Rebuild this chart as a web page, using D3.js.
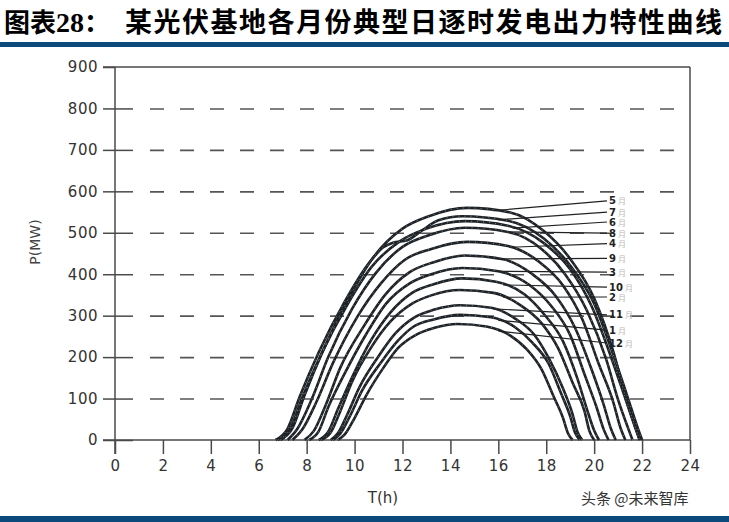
<!DOCTYPE html>
<html>
<head>
<meta charset="utf-8">
<script src="https://cdn.jsdelivr.net/npm/d3@7"></script>
<style>
body { margin: 0; background: #fff; }
</style>
</head>
<body>
<div id="chart"></div>
<script>
var width = 729,
    height = 522;

// 各月份（按右侧标注从上到下的顺序）
var months = ["5", "7", "6", "8", "4", "9", "3", "10", "2", "11", "1", "12"];

// 每条曲线的时刻 (h)
var hours = [
  [6.9, 7.4, 7.9, 8.7, 9.8, 10.8, 12.0, 13.1, 14.7, 16.5, 17.9, 19.0, 20.0, 20.8, 21.3, 21.7, 21.9],
  [6.7, 7.2, 7.7, 8.5, 9.6, 10.6, 11.2, 11.6, 12.2, 12.8, 13.5, 14.5, 16.4, 17.9, 19.0, 20.0, 20.8, 21.4, 21.8, 22.0],
  [6.8, 7.3, 7.8, 8.6, 9.7, 10.7, 11.9, 13.0, 14.6, 16.4, 17.9, 19.0, 19.9, 20.7, 21.3, 21.7, 21.9],
  [7.2, 7.6, 8.2, 8.9, 9.9, 10.9, 12.0, 13.1, 14.6, 16.4, 17.8, 18.8, 19.7, 20.5, 21.0, 21.4, 21.6],
  [7.4, 7.8, 8.4, 9.1, 10.1, 11.1, 12.1, 13.2, 14.7, 16.4, 17.7, 18.7, 19.5, 20.2, 20.8, 21.1, 21.3],
  [7.9, 8.3, 8.8, 9.4, 10.4, 11.3, 12.3, 13.3, 14.6, 16.2, 17.4, 18.4, 19.2, 19.9, 20.4, 20.7, 20.9],
  [8.1, 8.5, 8.9, 9.6, 10.5, 11.3, 12.3, 13.2, 14.5, 16.0, 17.3, 18.2, 19.0, 19.6, 20.1, 20.4, 20.6],
  [8.5, 8.9, 9.3, 9.9, 10.7, 11.5, 12.4, 13.3, 14.5, 15.9, 17.1, 17.9, 18.7, 19.3, 19.7, 20.0, 20.2],
  [8.6, 9.0, 9.4, 9.9, 10.7, 11.5, 12.4, 13.2, 14.4, 15.8, 16.9, 17.8, 18.5, 19.1, 19.6, 19.8, 20.0],
  [9.0, 9.3, 9.7, 10.2, 11.0, 11.7, 12.5, 13.3, 14.4, 15.7, 16.7, 17.5, 18.1, 18.7, 19.1, 19.3, 19.5],
  [9.1, 9.4, 9.8, 10.3, 11.1, 11.8, 12.5, 13.3, 14.4, 15.7, 16.7, 17.4, 18.1, 18.6, 19.0, 19.2, 19.4],
  [9.3, 9.6, 10.0, 10.5, 11.2, 11.8, 12.6, 13.3, 14.3, 15.5, 16.5, 17.2, 17.8, 18.3, 18.7, 18.9, 19.1]
];

// 对应的发电出力 P (MW)
var power = [
  [0, 28, 106, 218, 347, 442, 510, 540, 560, 549, 504, 437, 342, 213, 106, 34, 0],
  [0, 27, 103, 211, 335, 427, 465, 476, 482, 505, 530, 540, 529, 486, 421, 329, 205, 103, 32, 0],
  [0, 26, 100, 206, 327, 417, 480, 510, 528, 517, 475, 412, 322, 201, 100, 32, 0],
  [0, 26, 97, 200, 317, 404, 466, 494, 512, 502, 461, 399, 312, 195, 97, 31, 0],
  [0, 24, 91, 186, 296, 378, 435, 461, 478, 468, 430, 373, 292, 182, 91, 29, 0],
  [0, 22, 85, 174, 276, 352, 405, 429, 445, 436, 401, 347, 271, 169, 85, 27, 0],
  [0, 21, 79, 162, 257, 328, 378, 400, 415, 407, 374, 324, 253, 158, 79, 25, 0],
  [0, 20, 74, 152, 242, 308, 355, 376, 390, 382, 351, 304, 238, 148, 74, 23, 0],
  [0, 18, 69, 141, 224, 286, 329, 349, 362, 355, 326, 282, 221, 138, 69, 22, 0],
  [0, 16, 62, 127, 202, 257, 296, 314, 325, 319, 293, 254, 198, 124, 62, 20, 0],
  [0, 15, 57, 118, 187, 239, 275, 291, 302, 296, 272, 236, 184, 115, 57, 18, 0],
  [0, 14, 53, 109, 174, 221, 255, 270, 280, 274, 252, 218, 171, 106, 53, 17, 0]
];

// 标注引线：曲线上的起点时刻，和标注所在的高度 (MW)
var anchorHour = [15.8, 16.0, 16.6, 16.4, 16.5, 16.0, 16.0, 16.2, 16.2, 15.8, 16.0, 16.0];
var labelMW = [577, 550, 526, 499, 474, 438, 405, 369, 345, 302, 265, 234];

var xTicks = d3.range(0, 25, 2);
var yTicks = d3.range(0, 901, 100);

var svg = d3.select("#chart").append("svg")
    .attr("width", width)
    .attr("height", height)
    .style("background-color", "#fff");

// 标题
var title = svg.append("text")
    .attr("x", 4)
    .attr("y", 32)
    .style("font-size", "26px")
    .attr("font-weight", "bold")
    .style("fill", "#000");
title.append("tspan").attr("font-family", "Noto Sans CJK SC").text("图表");
title.append("tspan").attr("font-family", "Liberation Serif").style("font-size", "28px").text("28");
title.append("tspan").attr("font-family", "Noto Sans CJK SC").text("：");

svg.append("text")
    .attr("x", 125)
    .attr("y", 32)
    .attr("font-family", "Noto Sans CJK SC")
    .style("font-size", "27px")
    .style("letter-spacing", "1.5px")
    .attr("font-weight", "bold")
    .style("fill", "#000")
    .text("某光伏基地各月份典型日逐时发电出力特性曲线");

svg.append("rect")
    .attr("x", 0).attr("y", 42)
    .attr("width", width).attr("height", 5)
    .style("fill", "#0d4a7c");

svg.append("rect")
    .attr("x", 0).attr("y", 516)
    .attr("width", width).attr("height", 6)
    .style("fill", "#0d4a7c");

var x = d3.scaleLinear().domain([0, 24]).range([115, 690]);
var y = d3.scaleLinear().domain([0, 900]).range([440, 67]);

var axisColor = "#4a4a4a";

// 虚线网格
svg.append("g")
    .attr("transform", "translate(150,0)")
    .call(d3.axisRight(y).tickValues(yTicks.filter(function(d) { return d > 0 && d < 900; }))
        .tickSize(540).tickFormat(""))
    .call(function(g) { g.select(".domain").remove(); })
    .selectAll("line")
    .attr("stroke", "#555")
    .attr("stroke-width", 1.6)
    .attr("stroke-dasharray", "14,16");

// 边框
svg.append("line").attr("x1", 103).attr("x2", 690).attr("y1", y(900)).attr("y2", y(900));
svg.append("line").attr("x1", 690).attr("x2", 690).attr("y1", y(900)).attr("y2", y(0));
svg.selectAll("line").filter(function() { return !this.getAttribute("stroke"); })
    .attr("stroke", axisColor).attr("stroke-width", 1.5);

// y 轴
var yAxis = svg.append("g")
    .attr("transform", "translate(115,0)")
    .call(d3.axisLeft(y).tickValues(yTicks).tickSize(12).tickPadding(5));
yAxis.select(".domain").attr("stroke", axisColor).attr("stroke-width", 1.5)
    .attr("d", "M0," + y(900) + "V" + (y(0) + 14));
yAxis.selectAll(".tick line").attr("stroke", axisColor).attr("stroke-width", 1.5);
yAxis.selectAll(".tick text")
    .attr("font-family", "DejaVu Sans")
    .style("font-size", "15px")
    .style("letter-spacing", "0.5px")
    .style("fill", "#333");

svg.append("g")
    .attr("transform", "translate(115,0)")
    .call(d3.axisRight(y).tickValues(yTicks.filter(function(d) { return d < 900; })).tickSize(18).tickFormat(""))
    .call(function(g) { g.select(".domain").remove(); })
    .selectAll("line").attr("stroke", axisColor).attr("stroke-width", 1.5);

// x 轴
var xAxis = svg.append("g")
    .attr("transform", "translate(0," + y(0) + ")")
    .call(d3.axisBottom(x).tickValues(xTicks).tickSize(14).tickPadding(6));
xAxis.select(".domain").attr("stroke", axisColor).attr("stroke-width", 1.5)
    .attr("d", "M103,0H690");
xAxis.selectAll(".tick line").attr("stroke", axisColor).attr("stroke-width", 1.5);
xAxis.selectAll(".tick text")
    .attr("font-family", "DejaVu Sans")
    .style("font-size", "15px")
    .style("letter-spacing", "0.5px")
    .style("fill", "#333");

svg.append("text")
    .attr("transform", "translate(40,242) rotate(-90)")
    .attr("text-anchor", "middle")
    .attr("font-family", "DejaVu Sans")
    .style("font-size", "14px")
    .style("fill", "#444")
    .text("P(MW)");

svg.append("text")
    .attr("x", 383)
    .attr("y", 503)
    .attr("text-anchor", "middle")
    .attr("font-family", "DejaVu Sans")
    .style("font-size", "15px")
    .style("fill", "#333")
    .text("T(h)");

// 曲线
var line = d3.line()
    .x(function(d) { return x(d[0]); })
    .y(function(d) { return y(d[1]); })
    .curve(d3.curveMonotoneX);

var series = months.map(function(m, i) {
    return hours[i].map(function(h, j) { return [h, power[i][j]]; });
});

svg.append("g").selectAll("path")
    .data(series)
    .enter()
    .append("path")
    .attr("d", line)
    .attr("fill", "none")
    .attr("stroke", "#1e2328")
    .attr("stroke-width", 2.6)
    .attr("stroke-linejoin", "round");

svg.append("g").selectAll("path")
    .data(series)
    .enter()
    .append("path")
    .attr("d", line)
    .attr("fill", "none")
    .attr("stroke", "#fff")
    .attr("stroke-width", 0.6)
    .attr("stroke-opacity", 0.7)
    .attr("stroke-dasharray", "1,5");

// 标注引线与月份
function valueAt(i, h) {
    var hs = hours[i], ps = power[i];
    var k = d3.bisectLeft(hs, h);
    if (k <= 0) return ps[0];
    if (k >= hs.length) return ps[ps.length - 1];
    var t = (h - hs[k - 1]) / (hs[k] - hs[k - 1]);
    return ps[k - 1] + t * (ps[k] - ps[k - 1]);
}

months.forEach(function(m, i) {
    svg.append("line")
        .attr("x1", x(anchorHour[i]))
        .attr("y1", y(valueAt(i, anchorHour[i])))
        .attr("x2", 607)
        .attr("y2", y(labelMW[i]))
        .attr("stroke", "#222")
        .attr("stroke-width", 1.2);

    var lab = svg.append("text")
        .attr("x", 609)
        .attr("y", y(labelMW[i]) + 3.5)
        .attr("font-family", "DejaVu Sans");
    lab.append("tspan")
        .style("font-size", "10px")
        .attr("font-weight", "bold")
        .style("fill", "#222")
        .text(m);
    lab.append("tspan")
        .attr("dx", 2)
        .attr("font-family", "Noto Sans CJK SC")
        .style("font-size", "8px")
        .style("fill", "#bbb")
        .text("月");
});

// 水印
svg.append("text")
    .attr("x", 581)
    .attr("y", 504)
    .attr("font-family", "Noto Sans CJK SC")
    .style("font-size", "15px")
    .style("fill", "#333")
    .text("头条 @未来智库");
</script>
</body>
</html>
